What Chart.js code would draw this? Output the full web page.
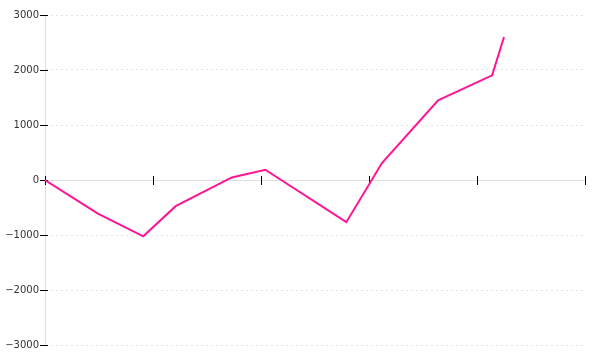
<!DOCTYPE html>
<html>
<head>
<meta charset="utf-8">
<script src="https://cdn.jsdelivr.net/npm/chart.js@4/dist/chart.umd.min.js"></script>
<style>
  html, body { margin: 0; padding: 0; background: #fff; }
  #wrap { width: 600px; height: 360px; }
</style>
</head>
<body>
<div id="wrap"><canvas id="chart"></canvas></div>
<script>
// values
const xValues = [0, 0.49, 0.91, 1.21, 1.73, 2.04, 2.79, 3.12, 3.64, 4.14, 4.25];
const yValues = [0, -613, -1024, -476, 47, 187, -767, 309, 1447, 1902, 2600];
const xTicks = [0, 1, 2, 3, 4, 5];
const yTicks = [-3000, -2000, -1000, 0, 1000, 2000, 3000];

const LINE_COLOR = '#ff1493';

// cross-style tick marks on both axes
const crossTicks = {
  id: 'crossTicks',
  beforeDatasetsDraw(chart) {
    const ctx = chart.ctx;
    const xs = chart.scales.x;
    const ys = chart.scales.y;
    const zero = Math.round(ys.getPixelForValue(0));
    ctx.save();
    ctx.strokeStyle = '#000';
    ctx.lineWidth = 1;
    ctx.beginPath();
    xTicks.forEach(v => {
      const px = Math.round(xs.getPixelForValue(v)) + 0.5;
      ctx.moveTo(px, zero - 4);
      ctx.lineTo(px, zero + 5);
    });
    yTicks.forEach(v => {
      const py = Math.round(ys.getPixelForValue(v)) + 0.5;
      ctx.moveTo(40, py);
      ctx.lineTo(48, py);
    });
    ctx.stroke();
    ctx.restore();
  }
};

new Chart(document.getElementById('chart'), {
  type: 'line',
  data: {
    datasets: [{
      data: xValues.map((x, i) => ({ x: x, y: yValues[i] })),
      borderColor: LINE_COLOR,
      borderWidth: 2,
      pointRadius: 0,
      tension: 0,
      fill: false
    }]
  },
  options: {
    responsive: true,
    maintainAspectRatio: false,
    animation: false,
    layout: { padding: { top: 15, bottom: 15, right: 15, left: 0 } },
    plugins: { legend: { display: false }, tooltip: { enabled: false } },
    scales: {
      x: {
        type: 'linear',
        position: { y: 0 },
        min: 0,
        max: 5,
        afterBuildTicks: s => { s.ticks = xTicks.map(v => ({ value: v })); },
        ticks: { display: false },
        grid: { drawOnChartArea: false, drawTicks: false },
        border: { display: true, color: '#dddddd', width: 1 }
      },
      y: {
        min: -3000,
        max: 3000,
        afterBuildTicks: s => { s.ticks = yTicks.map(v => ({ value: v })); },
        afterFit: s => { s.width = 45; },
        ticks: {
          padding: 6,
          color: '#333',
          font: { family: 'DejaVu Sans', size: 10 },
          callback: v => String(v).replace('-', '\u2212')
        },
        grid: { color: '#e4e4e4', drawTicks: false },
        border: { display: true, color: '#dddddd', width: 1, dash: [2, 3] }
      }
    }
  },
  plugins: [crossTicks]
});
</script>
</body>
</html>
